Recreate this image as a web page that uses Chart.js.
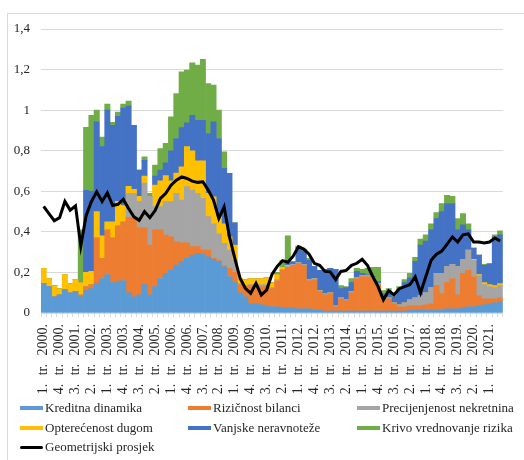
<!DOCTYPE html>
<html>
<head>
<meta charset="utf-8">
<script src="https://cdn.jsdelivr.net/npm/chart.js@4/dist/chart.umd.min.js"></script>
<style>
  html, body { margin: 0; padding: 0; background: #fff; }
  #wrap { position: relative; width: 524px; height: 460px; overflow: hidden; }
  #frame { position: absolute; left: 7px; top: 13px; width: 540px; height: 470px; border: 1px solid #d9d9d9; box-sizing: border-box; }
  canvas { position: absolute; left: 0; top: 0; }
  #legend { position: absolute; left: 0; top: 0; width: 524px; height: 460px; font-family: "Liberation Serif", "Times New Roman", serif; font-size: 13px; color: #262626; }
  .item { position: absolute; white-space: nowrap; height: 16px; line-height: 16px; }
  .key { position: absolute; left: 0; top: 6px; width: 23px; height: 4px; }
  .key.line { height: 3px; top: 6.5px; border-radius: 2px; }
  .txt { position: absolute; left: 25px; top: 0; }
</style>
</head>
<body>
<div id="wrap">
  <div id="frame"></div>
  <canvas id="c" width="524" height="460"></canvas>
  <div id="legend"></div>
</div>
<script>
const categories = [
 "1. tr. 2000.","2. tr. 2000.","3. tr. 2000.","4. tr. 2000.",
 "1. tr. 2001.","2. tr. 2001.","3. tr. 2001.","4. tr. 2001.",
 "1. tr. 2002.","2. tr. 2002.","3. tr. 2002.","4. tr. 2002.",
 "1. tr. 2003.","2. tr. 2003.","3. tr. 2003.","4. tr. 2003.",
 "1. tr. 2004.","2. tr. 2004.","3. tr. 2004.","4. tr. 2004.",
 "1. tr. 2005.","2. tr. 2005.","3. tr. 2005.","4. tr. 2005.",
 "1. tr. 2006.","2. tr. 2006.","3. tr. 2006.","4. tr. 2006.",
 "1. tr. 2007.","2. tr. 2007.","3. tr. 2007.","4. tr. 2007.",
 "1. tr. 2008.","2. tr. 2008.","3. tr. 2008.","4. tr. 2008.",
 "1. tr. 2009.","2. tr. 2009.","3. tr. 2009.","4. tr. 2009.",
 "1. tr. 2010.","2. tr. 2010.","3. tr. 2010.","4. tr. 2010.",
 "1. tr. 2011.","2. tr. 2011.","3. tr. 2011.","4. tr. 2011.",
 "1. tr. 2012.","2. tr. 2012.","3. tr. 2012.","4. tr. 2012.",
 "1. tr. 2013.","2. tr. 2013.","3. tr. 2013.","4. tr. 2013.",
 "1. tr. 2014.","2. tr. 2014.","3. tr. 2014.","4. tr. 2014.",
 "1. tr. 2015.","2. tr. 2015.","3. tr. 2015.","4. tr. 2015.",
 "1. tr. 2016.","2. tr. 2016.","3. tr. 2016.","4. tr. 2016.",
 "1. tr. 2017.","2. tr. 2017.","3. tr. 2017.","4. tr. 2017.",
 "1. tr. 2018.","2. tr. 2018.","3. tr. 2018.","4. tr. 2018.",
 "1. tr. 2019.","2. tr. 2019.","3. tr. 2019.","4. tr. 2019.",
 "1. tr. 2020.","2. tr. 2020.","3. tr. 2020.","4. tr. 2020.",
 "1. tr. 2021.","2. tr. 2021.","3. tr. 2021."
];
const yTickLabels = ["0","0,2","0,4","0,6","0,8","1","1,2","1,4"];

const kreditnaDinamika = [
 .145,.13,.08,.09,.115,.10,.105,.08,.11,.12,.146,.17,.19,.15,.155,.16,
 .10,.08,.09,.14,.09,.13,.17,.195,.211,.236,.253,.27,.286,.294,.291,.277,
 .264,.253,.228,.18,.15,.10,.08,.045,.045,.04,.035,.03,.03,.025,.025,.025,
 .02,.02,.02,.015,.015,.01,.01,.01,.01,.01,.01,.01,.01,.01,.01,.01,
 .01,.01,.01,.01,.01,.015,.015,.015,.015,.015,.015,.015,.02,.02,.02,.025,
 .03,.03,.035,.04,.045,.05,.055];
const rizicnostBilanci = [
 0,0,0,0,0,0,0,.01,.02,.02,.224,.10,.22,.22,.275,.29,
 .37,.39,.33,.28,.245,.28,.24,.189,.165,.115,.093,.076,.041,.033,.022,.033,
 .006,.005,.005,.04,.05,.04,.05,.09,.09,.09,.095,.09,.13,.185,.20,.21,
 .225,.215,.14,.15,.09,.08,.085,.02,.06,.05,.09,.16,.17,.17,.16,.13,
 .06,.06,.035,.02,.02,.02,.02,.02,.025,.03,.12,.08,.13,.15,.07,.17,
 .18,.15,.05,.03,.025,.02,.02];
const precijenjenostNekretnina = [
 0,0,0,0,0,0,0,0,0,0,0,0,0,0,0,0,
 .12,.12,.13,.22,.24,.115,.114,.165,.173,.239,.211,.277,.279,.263,.252,.165,
 .17,.132,.11,.09,.06,.005,.005,.005,.005,.01,.01,.005,.005,.005,.005,.005,
 .005,.005,.005,.005,.005,.005,.005,.005,.005,.005,.005,.005,.005,.005,.005,.005,
 .005,.005,.005,.01,.02,.03,.04,.05,.06,.08,.06,.10,.08,.07,.14,.07,
 .10,.08,.10,.07,.06,.055,.06];
const optereceostDugom = [
 .075,.04,.055,.03,.075,.045,.06,.06,.07,.065,.13,.11,.04,.08,.12,.08,
 .035,.02,.025,.035,0,.105,.128,.128,.103,.10,.163,.197,.194,.16,.185,.115,
 .133,.085,.097,.066,.075,.025,.028,.03,.03,.03,.035,.025,.025,.01,.005,0,
 0,0,0,0,0,0,0,0,0,0,0,0,0,0,0,0,
 0,0,0,0,0,0,0,0,0,0,0,0,0,0,0,0,
 0,.005,.005,.01,.01,.01,.01];
const vanjskeNeravnoteze = [
 0,0,0,0,0,0,0,0,.405,.395,.443,.44,.55,.475,.42,.48,
 .395,.315,.13,.077,0,.045,.052,.063,.148,.17,.194,.117,.175,.20,.20,.295,
 .369,.385,.273,.312,.11,0,0,0,0,0,0,0,0,0,.01,.01,
 .075,.065,.095,.06,.10,.12,.12,.18,.045,.06,.045,.03,.01,.005,.005,.01,
 .02,.03,.03,.075,.10,.11,.18,.25,.255,.285,.27,.305,.31,.30,.18,.17,
 .10,.055,.095,.085,.10,.24,.24];
const krivoVrednovanjeRizika = [
 0,0,0,0,0,0,0,.26,.31,.375,.057,.047,.03,.015,.02,.02,
 .025,0,0,.018,.015,.054,.107,.096,.167,.222,.275,.26,.258,.272,.30,.246,
 .181,.14,.082,0,0,0,0,0,0,0,0,0,.01,.035,.135,.005,
 .005,.01,.01,0,0,0,0,0,.015,.005,.02,.015,.02,.03,.045,.07,
 .015,.015,.01,.015,.015,.02,.02,.03,.03,.03,.03,.04,.04,.035,.055,.055,
 .03,0,0,.005,.005,.01,.02];
const geometrijskiProsjek = [
 .526,.49,.455,.47,.55,.507,.528,.33,.48,.55,.597,.55,.593,.53,.536,.56,
 .515,.474,.457,.50,.47,.505,.565,.59,.63,.655,.671,.663,.65,.644,.647,.606,
 .557,.466,.523,.376,.27,.172,.122,.097,.146,.089,.113,.19,.23,.258,.25,.28,
 .327,.315,.29,.245,.235,.205,.203,.165,.205,.21,.235,.245,.265,.235,.18,.13,
 .065,.11,.09,.12,.13,.14,.178,.10,.18,.26,.29,.305,.34,.375,.35,.385,
 .39,.35,.35,.345,.35,.37,.355];

const seriesNames = ["Kreditna dinamika","Rizičnost bilanci","Precijenjenost nekretnina",
  "Opterećenost dugom","Vanjske neravnoteže","Krivo vrednovanje rizika","Geometrijski prosjek"];
const seriesColors = ["#5B9BD5","#ED7D31","#A5A5A5","#FFC000","#4472C4","#70AD47","#000000"];
const barSeries = [kreditnaDinamika, rizicnostBilanci, precijenjenostNekretnina,
  optereceostDugom, vanjskeNeravnoteze, krivoVrednovanjeRizika];

const FONT = "'Liberation Serif', 'Times New Roman', serif";

const datasets = barSeries.map((d, k) => ({
  type: 'bar',
  label: seriesNames[k],
  data: d,
  backgroundColor: seriesColors[k],
  borderWidth: 0,
  barPercentage: 1.0,
  categoryPercentage: 1.0,
  stack: 's',
  order: 1
}));
datasets.push({
  type: 'line',
  label: seriesNames[6],
  data: geometrijskiProsjek,
  borderColor: '#000',
  backgroundColor: '#000',
  borderWidth: 3,
  pointRadius: 0,
  tension: 0,
  fill: false,
  order: 0
});

const spacing = {
  id: 'spacing',
  beforeDraw(chart) { try { chart.ctx.wordSpacing = '5px'; } catch (e) {} }
};

new Chart(document.getElementById('c'), {
  data: { labels: categories, datasets },
  plugins: [spacing],
  options: {
    responsive: false,
    animation: false,
    events: [],
    layout: { padding: { left: 0, right: 8, top: 29, bottom: 57 } },
    plugins: { legend: { display: false }, tooltip: { enabled: false } },
    scales: {
      x: {
        stacked: true,
        offset: true,
        grid: { display: true, drawOnChartArea: false, drawTicks: true, tickLength: 4, color: '#d9d9d9', offset: true },
        border: { display: true, color: '#d9d9d9' },
        ticks: {
          autoSkip: false, maxRotation: 90, minRotation: 90, padding: 7,
          color: '#262626', font: { family: FONT, size: 14 },
          callback: (v, i) => (i % 3 === 0 ? categories[i] : '')
        },
        afterFit: (s) => { s.height = 90; }
      },
      y: {
        stacked: true,
        min: 0, max: 1.4,
        ticks: {
          stepSize: 0.2, padding: 11, color: '#262626', font: { family: FONT, size: 13 },
          callback: (v, i) => yTickLabels[i]
        },
        grid: { color: '#d9d9d9', drawTicks: false },
        border: { display: false },
        afterFit: (s) => { s.width = 41; }
      }
    }
  }
});

// HTML legend in three columns
const legendPos = [
  [20, 400], [188, 400], [357, 400],
  [20, 420], [188, 420], [357, 420],
  [20, 439]
];
const lg = document.getElementById('legend');
seriesNames.forEach((n, k) => {
  const it = document.createElement('div');
  it.className = 'item';
  it.style.left = legendPos[k][0] + 'px';
  it.style.top = legendPos[k][1] + 'px';
  const key = document.createElement('div');
  key.className = 'key' + (k === 6 ? ' line' : '');
  key.style.background = seriesColors[k];
  const t = document.createElement('span');
  t.className = 'txt';
  t.textContent = n;
  it.appendChild(key); it.appendChild(t);
  lg.appendChild(it);
});
</script>
</body>
</html>
